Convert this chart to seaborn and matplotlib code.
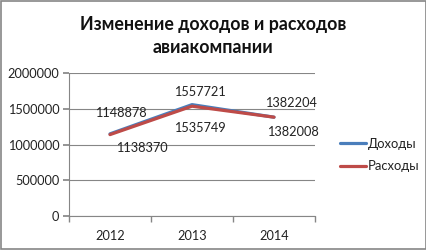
import matplotlib
matplotlib.use("Agg")
import matplotlib.pyplot as plt
import seaborn as sns
import pandas as pd
from matplotlib.patches import Rectangle

years = ["2012", "2013", "2014"]
income = [1148878, 1557721, 1382204]
expenses = [1138370, 1535749, 1382008]
series_names = ["Доходы", "Расходы"]
title = "Изменение доходов и расходов\nавиакомпании"

sns.set_theme(style="white")
plt.rcParams['font.family'] = ['Lato', 'DejaVu Sans']

df = pd.DataFrame({
    "year": years * 2,
    "value": income + expenses,
    "series": [series_names[0]] * 3 + [series_names[1]] * 3,
})

fig = plt.figure(figsize=(4.27, 2.5), dpi=100)
ax = fig.add_axes([69/427, 1-216/250, (315-69)/427, (216-73)/250])

palette = {series_names[0]: "#4A7EBB", series_names[1]: "#BE4B48"}
sns.lineplot(data=df, x="year", y="value", hue="series", palette=palette,
             sort=False, linewidth=2.3, ax=ax, legend=True)

ax.set_xlim(-0.5, 2.5)
ax.set_ylim(0, 2000000)
ax.set_yticks([0, 500000, 1000000, 1500000, 2000000])
ax.set_yticklabels(["0", "500000", "1000000", "1500000", "2000000"])
ax.set_xlabel("")
ax.set_ylabel("")
ax.yaxis.grid(True, color="#868686", linewidth=0.8)
ax.set_axisbelow(True)
for s in ["top", "right"]:
    ax.spines[s].set_visible(False)
for s in ["left", "bottom"]:
    ax.spines[s].set_color("#868686")
    ax.spines[s].set_linewidth(0.8)
ax.tick_params(axis="y", which="major", length=4, color="#868686", labelsize=9.2,
               left=True, pad=3, labelcolor="#222222")
ax.tick_params(axis="x", which="major", length=0, labelsize=9.2, pad=10,
               labelcolor="#222222")
ax.set_xticks([-0.5, 0.5, 1.5, 2.5], minor=True)
ax.tick_params(axis="x", which="minor", length=4, color="#868686", bottom=True)

# data labels
inc_off = [(11, 21), (8, 13), (17, 14)]
exp_off = [(32, -13), (8, -22), (19, -15)]
for i, (v, off) in enumerate(zip(income, inc_off)):
    ax.annotate(str(v), (i, v), xytext=off, textcoords="offset pixels",
                ha="center", va="center", fontsize=9.2, color="#222222")
for i, (v, off) in enumerate(zip(expenses, exp_off)):
    ax.annotate(str(v), (i, v), xytext=off, textcoords="offset pixels",
                ha="center", va="center", fontsize=9.2, color="#222222")

leg = ax.legend(loc="center left", bbox_to_anchor=(328/427, 1-155/250),
                bbox_transform=fig.transFigure, frameon=False, fontsize=9.4,
                handlelength=2.0, handletextpad=0.15, labelspacing=0.8)
for t in leg.get_texts():
    t.set_color("#222222")

fig.text(0.5, 1-36/250, title, ha="center", va="center", fontsize=12.8,
         fontweight="bold", linespacing=1.45, color="#111111")

fig.patches.append(Rectangle((0.002, 0.004), 0.995, 0.992, transform=fig.transFigure,
                             fill=False, edgecolor="#868686", linewidth=1.2))

fig.savefig("out.png", dpi=100)
